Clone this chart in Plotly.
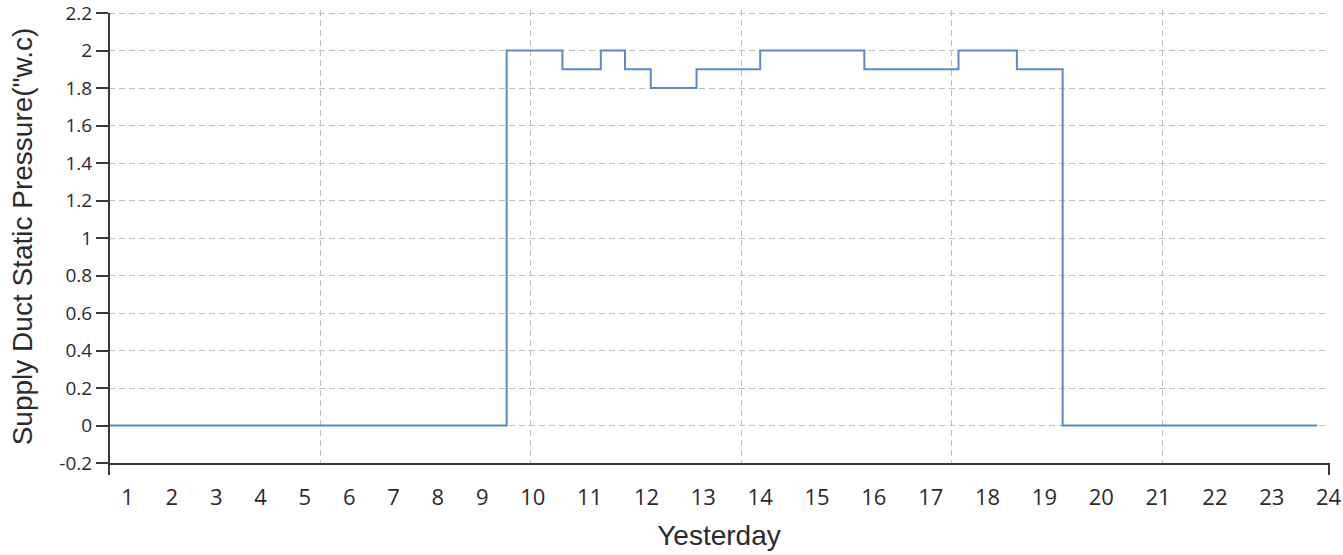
import plotly.graph_objects as go

# ---- data ----
step_hours = [0.0, 7.54, 8.60, 9.33, 9.79, 10.28, 11.15, 12.36, 14.34, 16.13, 17.24, 18.11, 22.95]
pressure = [0.0, 2.0, 1.9, 2.0, 1.9, 1.8, 1.9, 2.0, 1.9, 2.0, 1.9, 0.0, 0.0]

hour_labels = ["1", "2", "3", "4", "5", "6", "7", "8", "9", "10", "11", "12",
               "13", "14", "15", "16", "17", "18", "19", "20", "21", "22", "23", "24"]
grid_hours = [4, 8, 12, 16, 20]

y_tick_vals = [-0.2, 0.0, 0.2, 0.4, 0.6, 0.8, 1.0, 1.2, 1.4, 1.6, 1.8, 2.0, 2.2]
y_tick_text = ["-0.2", "0", "0.2", "0.4", "0.6", "0.8", "1", "1.2", "1.4", "1.6", "1.8", "2", "2.2"]

# ---- layout geometry ----
W, H = 1343, 555
M_L, M_R, M_T, M_B = 109, 14, 10, 92
PX_PER_HOUR = 52.6
x_range = [-0.02, (W - M_R - M_L) / PX_PER_HOUR - 0.02]
plot_h = H - M_T - M_B
TOP_PAD = 3   # px between the 2.2 gridline and the top of the plot area
y_range = [-0.2, 2.2 + 2.4 * TOP_PAD / (plot_h - TOP_PAD)]

# tick labels are laid out in a row with equal gaps between them
digit_w = 12.5
first_c, last_c = 127.5, 1328.6
widths = [len(t) * digit_w for t in hour_labels]
inner = widths[0] / 2 + sum(widths[1:-1]) + widths[-1] / 2
gap = ((last_c - first_c) - inner) / (len(hour_labels) - 1)
label_pos = []
c = first_c
for i in range(len(hour_labels)):
    label_pos.append(c)
    if i + 1 < len(hour_labels):
        c += widths[i] / 2 + gap + widths[i + 1] / 2

AXIS_COL = "#3a3a3a"
GRID_COL = "#bfbfbf"
TXT_COL = "#2b2b2b"

fig = go.Figure()
fig.add_trace(go.Scatter(
    x=step_hours, y=pressure, mode="lines",
    line=dict(shape="hv", color="#5b8ac6", width=2),
    xaxis="x", yaxis="y", showlegend=False, hoverinfo="x+y"))
# invisible helper trace so the label axis is drawn
fig.add_trace(go.Scatter(
    x=[label_pos[0]], y=[0], mode="markers", marker=dict(opacity=0),
    xaxis="x2", yaxis="y", showlegend=False, hoverinfo="skip"))

fig.update_layout(
    width=W, height=H,
    margin=dict(l=M_L, r=M_R, t=M_T, b=M_B, pad=0, autoexpand=False),
    paper_bgcolor="white", plot_bgcolor="white",
    xaxis=dict(
        range=x_range, tickvals=grid_hours, showticklabels=False, ticks="",
        showgrid=True, gridcolor=GRID_COL, griddash="6px,4px", gridwidth=1,
        zeroline=False, showline=True, linecolor=AXIS_COL, linewidth=2,
        automargin=False,
    ),
    xaxis2=dict(
        overlaying="x", anchor="y", side="bottom",
        range=[M_L, W - M_R], tickvals=label_pos, ticktext=hour_labels,
        ticks="outside", ticklen=15, tickcolor="rgba(0,0,0,0)",
        showgrid=False, zeroline=False, showline=False, automargin=False,
        ticklabeloverflow="allow",
        tickfont=dict(family="Open Sans", size=22, color=TXT_COL),
        title=dict(text="Yesterday", standoff=14,
                   font=dict(family="Liberation Sans", size=28, color=TXT_COL)),
    ),
    yaxis=dict(
        range=y_range, tickvals=y_tick_vals, ticktext=y_tick_text,
        ticks="outside", ticklen=12, tickwidth=2, tickcolor=AXIS_COL,
        showgrid=True, gridcolor=GRID_COL, griddash="6px,4px", gridwidth=1,
        zeroline=False, showline=False,
        automargin=False, ticklabeloverflow="allow",
        tickfont=dict(family="Open Sans", size=19, color=TXT_COL),
        title=dict(text="Supply Duct Static Pressure(\"w.c)", standoff=18,
                   font=dict(family="Liberation Sans", size=28, color=TXT_COL)),
    ),
    shapes=[
        # y-axis domain line, running from the 2.2 tick down past the x axis
        dict(type="line", xref="paper", yref="y", x0=0, x1=0,
             y0=y_tick_vals[-1], y1=y_tick_vals[0],
             line=dict(color=AXIS_COL, width=2)),
        dict(type="line", xref="paper", yref="paper", ysizemode="pixel", yanchor=0,
             x0=0, x1=0, y0=0, y1=-12, line=dict(color=AXIS_COL, width=2)),
        dict(type="line", xref="paper", yref="paper", ysizemode="pixel", yanchor=0,
             x0=1, x1=1, y0=0, y1=-12, line=dict(color=AXIS_COL, width=2)),
    ],
)

fig.write_html(
    "out.html",
    config={"displayModeBar": False},
    post_script="document.body.style.margin='0';document.body.style.overflow='hidden';",
)
